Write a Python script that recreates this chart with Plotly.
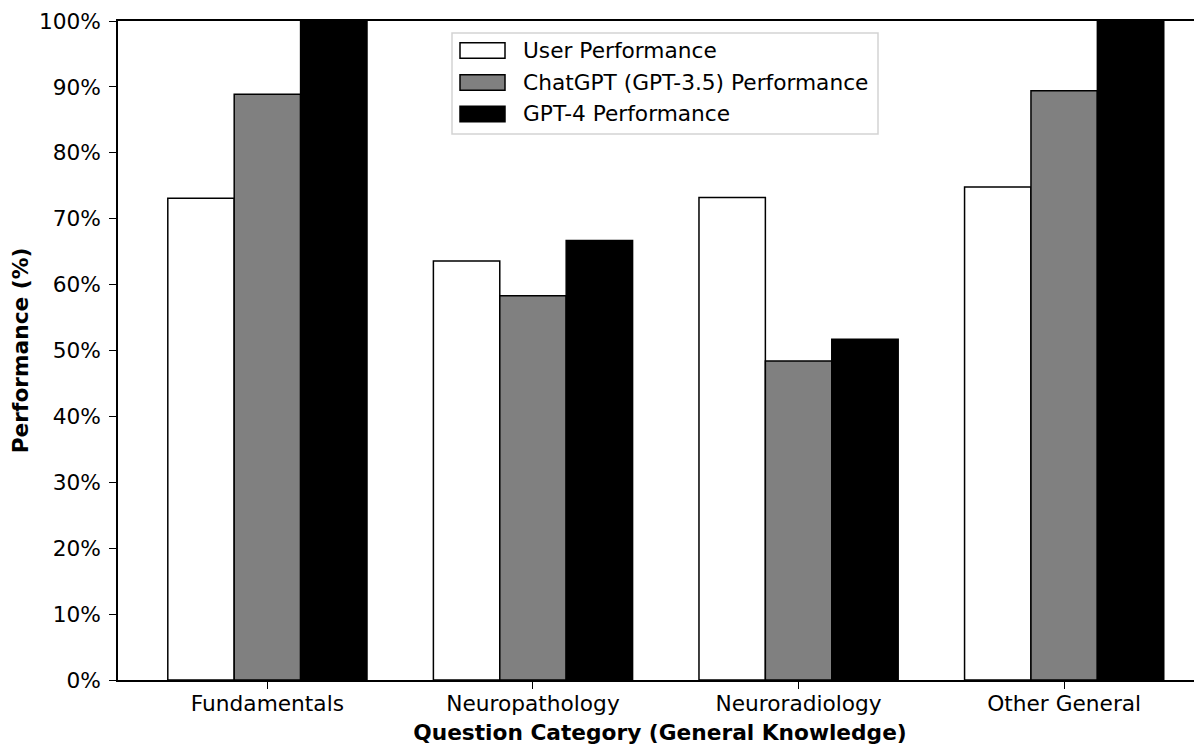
import plotly.graph_objects as go

categories = ["Fundamentals", "Neuropathology", "Neuroradiology", "Other General"]
user_perf = [73.1, 63.6, 73.2, 74.8]
chatgpt_perf = [88.9, 58.3, 48.4, 89.4]
gpt4_perf = [100.0, 66.7, 51.7, 100.0]
series_names = ["User Performance", "ChatGPT (GPT-3.5) Performance", "GPT-4 Performance"]
y_ticks = [0, 10, 20, 30, 40, 50, 60, 70, 80, 90, 100]

colors = ["white", "#808080", "black"]
series = [user_perf, chatgpt_perf, gpt4_perf]
x_idx = list(range(len(categories)))

# figure geometry (page has an 8px body margin)
W, H = 1194, 738
ML, MR, MT, MB = 110, 0, 13, 66
PW, PH = W - ML - MR, H - MT - MB
OFF = 8


def px(xw):
    return (xw - OFF - ML) / PW


def py(yw):
    return (H - MB - (yw - OFF)) / PH


fig = go.Figure()
for name, vals, col in zip(series_names, series, colors):
    fig.add_trace(go.Bar(
        x=x_idx, y=vals, name=name,
        marker=dict(color=col, line=dict(color="black", width=1.5)),
        width=0.25, showlegend=False,
    ))

font_family = "DejaVu Sans"
FS = 21.7

# custom legend (matplotlib-like wide patches)
shapes = [dict(type="rect", xref="paper", yref="paper",
               x0=px(452), x1=px(878), y0=py(134), y1=py(33),
               line=dict(color="#d3d3d3", width=1.5), fillcolor="white", layer="above")]
annotations = []
row_centers = [50.5, 82.5, 114]
for name, col, yc in zip(series_names, colors, row_centers):
    shapes.append(dict(type="rect", xref="paper", yref="paper",
                       x0=px(460), x1=px(505), y0=py(yc + 7.8), y1=py(yc - 7.8),
                       line=dict(color="black", width=1.5), fillcolor=col, layer="above"))
    annotations.append(dict(xref="paper", yref="paper", x=px(521), y=py(yc),
                            xanchor="left", yanchor="middle", text=name, showarrow=False,
                            font=dict(size=FS, family=font_family, color="black")))

fig.update_layout(
    width=W, height=H,
    barmode="group", bargap=0.25, bargroupgap=0,
    plot_bgcolor="white", paper_bgcolor="white",
    margin=dict(l=ML, r=MR, t=MT, b=MB, autoexpand=False),
    font=dict(family=font_family, size=FS, color="black"),
    showlegend=False,
    shapes=shapes, annotations=annotations,
)
fig.update_xaxes(
    range=[-0.5625, 3.519],
    tickmode="array", tickvals=x_idx, ticktext=categories,
    ticks="outside", ticklen=7, tickwidth=1.2, tickcolor="black",
    showline=True, linecolor="black", linewidth=1.5, mirror=True,
    showgrid=False, zeroline=False,
    tickfont=dict(size=FS), ticklabelstandoff=-4,
    title=dict(text="<b>Question Category (General Knowledge)</b>", font=dict(size=FS), standoff=10),
)
fig.update_yaxes(
    range=[0, 100],
    tickmode="array", tickvals=y_ticks, ticktext=[f"{v}%" for v in y_ticks],
    ticks="outside", ticklen=7, tickwidth=1.2, tickcolor="black",
    showline=True, linecolor="black", linewidth=1.5,
    showgrid=False, zeroline=False,
    tickfont=dict(size=FS), ticklabelstandoff=4,
    title=dict(text="<b>Performance (%)</b>", font=dict(size=FS), standoff=10),
)
fig.write_html("out.html")
